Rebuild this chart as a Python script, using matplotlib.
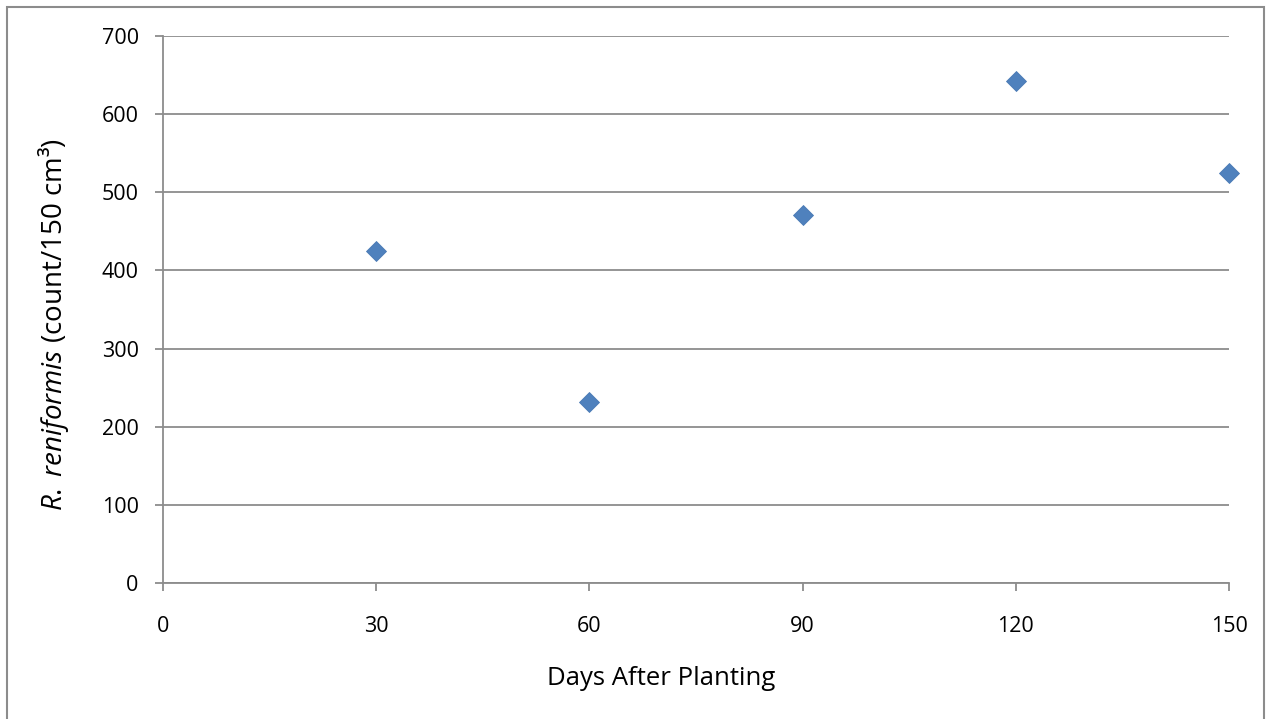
import matplotlib.pyplot as plt
from matplotlib.patches import Rectangle

days = [30, 60, 90, 120, 150]
counts = [425, 231, 471, 642, 525]
x_ticks = [0, 30, 60, 90, 120, 150]
y_ticks = [0, 100, 200, 300, 400, 500, 600, 700]

GRID = "#8c8c8c"
MARKER = "#4f81bd"

plt.rcParams["font.family"] = ["Open Sans", "DejaVu Sans"]
plt.rcParams["mathtext.fontset"] = "custom"
plt.rcParams["mathtext.rm"] = "Open Sans"
plt.rcParams["mathtext.it"] = "Open Sans:italic"

fig = plt.figure(figsize=(12.72, 7.19), dpi=100)
ax = fig.add_axes([0.1281, 0.1892, 0.9662 - 0.1281, 0.9499 - 0.1892])

# chart-area frame
fig.patches.append(Rectangle((7 / 1272, -0.01), 1257 / 1272, 1 - 7 / 719 + 0.01,
                             transform=fig.transFigure, fill=False,
                             edgecolor="#8c8c8c", linewidth=1.5))

ax.plot(days, counts, linestyle="none", marker="D", markersize=10.5,
        color=MARKER, markeredgecolor="#4a7ab5", markeredgewidth=0.6,
        zorder=3, clip_on=False)

ax.set_xlim(0, 150)
ax.set_ylim(0, 700)
ax.set_xticks(x_ticks)
ax.set_yticks(y_ticks)
ax.yaxis.grid(True, color=GRID, linewidth=1.3)
ax.set_axisbelow(True)

for side in ("top", "right"):
    ax.spines[side].set_visible(False)
for side in ("left", "bottom"):
    ax.spines[side].set_color(GRID)
    ax.spines[side].set_linewidth(1.3)

ax.tick_params(axis="both", colors=GRID, width=1.3, length=5.5,
               labelcolor="black", labelsize=15.5)
ax.tick_params(axis="x", pad=18)
ax.tick_params(axis="y", pad=12)

ax.set_xlabel("Days After Planting", fontsize=18.5)
ax.xaxis.set_label_coords(0.467, -0.151)
ax.set_ylabel(r"$\mathit{R.\;reniformis}$ (count/150 cm³)", fontsize=20)
ax.yaxis.set_label_coords(-0.086, 0.472)

fig.savefig("out.png", dpi=100)
